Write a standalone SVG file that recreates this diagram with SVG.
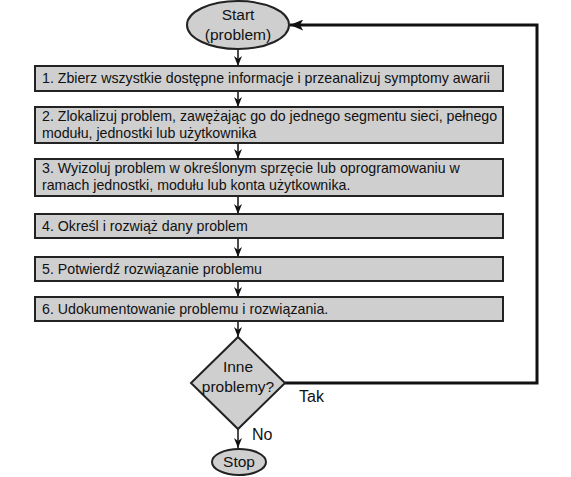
<svg xmlns="http://www.w3.org/2000/svg" width="571" height="477" viewBox="0 0 571 477">
<style>
.box{fill:#cfcfcf;stroke:#222;stroke-width:2}
.t{font-family:"Liberation Sans",Arial,sans-serif;font-size:14.2px;fill:#111}
.tl{font-family:"Liberation Sans",Arial,sans-serif;font-size:15.5px;fill:#111;text-anchor:middle}
.lbl{font-family:"Liberation Sans",Arial,sans-serif;font-size:16px;fill:#111}
.c{fill:none;stroke:#111;stroke-width:1.5}
.loop{fill:none;stroke:#111;stroke-width:3}
</style>
<defs>
<marker id="ah" viewBox="0 0 10 8" refX="10" refY="4" markerWidth="10" markerHeight="8" markerUnits="userSpaceOnUse" orient="auto">
<path d="M0,0 L10,4 L0,8 L3,4 z" fill="#111"/>
</marker>
<marker id="ah2" viewBox="0 0 12 10" refX="12" refY="5" markerWidth="14" markerHeight="11" markerUnits="userSpaceOnUse" orient="auto">
<path d="M0,0 L12,5 L0,10 L3,5 z" fill="#111"/>
</marker>
</defs>
<g id="connectors">
<line class="c" x1="238" y1="49" x2="238" y2="66" marker-end="url(#ah)"/>
<line class="c" x1="238" y1="91" x2="238" y2="107" marker-end="url(#ah)"/>
<line class="c" x1="238" y1="143" x2="238" y2="159" marker-end="url(#ah)"/>
<line class="c" x1="238" y1="196" x2="238" y2="214" marker-end="url(#ah)"/>
<line class="c" x1="238" y1="238" x2="238" y2="257" marker-end="url(#ah)"/>
<line class="c" x1="238" y1="281" x2="238" y2="297" marker-end="url(#ah)"/>
<line class="c" x1="238" y1="321" x2="238" y2="337" marker-end="url(#ah)"/>
<line class="c" x1="238" y1="429" x2="238" y2="448" marker-end="url(#ah)"/>
<polyline class="loop" points="285,383 537,383 537,25 290,25" marker-end="url(#ah2)"/>
<text class="lbl" x="299" y="402">Tak</text>
<text class="lbl" x="252" y="440">No</text>
</g>
<g id="start">
<ellipse cx="238" cy="25" rx="51" ry="24" class="box"/>
<text class="tl" x="238" y="20">Start</text>
<text class="tl" x="238" y="40">(problem)</text>
</g>
<g id="step1">
<rect class="box" x="35" y="66" width="468" height="25"/>
<text class="t" x="42" y="83">1. Zbierz wszystkie dostępne informacje i przeanalizuj symptomy awarii</text>
</g>
<g id="step2">
<rect class="box" x="35" y="107" width="468" height="36"/>
<text class="t" x="42" y="121">2. Zlokalizuj problem, zawężając go do jednego segmentu sieci, pełnego</text>
<text class="t" x="42" y="138">modułu, jednostki lub użytkownika</text>
</g>
<g id="step3">
<rect class="box" x="35" y="159" width="468" height="37"/>
<text class="t" x="42" y="173">3. Wyizoluj problem w określonym sprzęcie lub oprogramowaniu w</text>
<text class="t" x="42" y="190">ramach jednostki, modułu lub konta użytkownika.</text>
</g>
<g id="step4">
<rect class="box" x="35" y="214" width="468" height="24"/>
<text class="t" x="42" y="231">4. Określ i rozwiąż dany problem</text>
</g>
<g id="step5">
<rect class="box" x="35" y="257" width="468" height="24"/>
<text class="t" x="42" y="274">5. Potwierdź rozwiązanie problemu</text>
</g>
<g id="step6">
<rect class="box" x="35" y="297" width="468" height="24"/>
<text class="t" x="42" y="314">6. Udokumentowanie problemu i rozwiązania.</text>
</g>
<g id="decision">
<polygon class="box" points="238,337 285,383 238,429 191,383"/>
<text class="tl" x="238" y="372">Inne</text>
<text class="tl" x="238" y="392">problemy?</text>
</g>
<g id="stop">
<ellipse cx="239" cy="462" rx="27" ry="13" class="box"/>
<text class="tl" x="239" y="467">Stop</text>
</g>
</svg>
